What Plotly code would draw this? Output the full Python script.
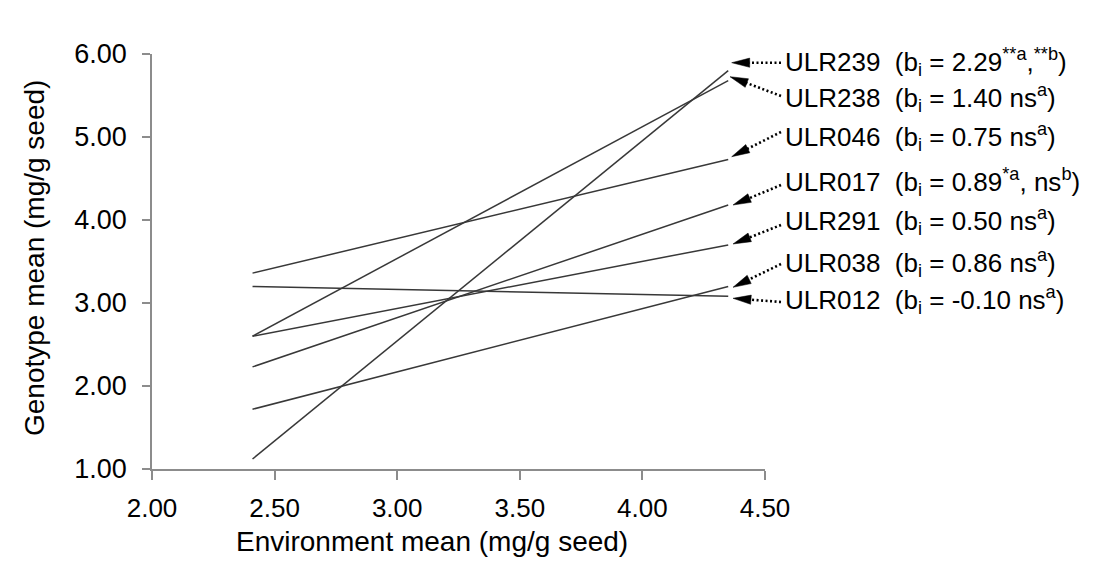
import math
import plotly.graph_objects as go

# ---- data ----
genotypes = ["ULR239", "ULR238", "ULR046", "ULR017", "ULR291", "ULR038", "ULR012"]
env_low = 2.41
env_high = 4.35
geno_low = [1.12, 2.60, 3.36, 2.23, 2.60, 1.72, 3.20]
geno_high = [5.80, 5.68, 4.73, 4.18, 3.70, 3.20, 3.08]
labels = [
    "ULR239 \u00a0(b<sub>i</sub> = 2.29<sup>**a</sup>,<sup>**b</sup>)",
    "ULR238 \u00a0(b<sub>i</sub> = 1.40 ns<sup>a</sup>)",
    "ULR046 \u00a0(b<sub>i</sub> = 0.75 ns<sup>a</sup>)",
    "ULR017 \u00a0(b<sub>i</sub> = 0.89<sup>*a</sup>, ns<sup>b</sup>)",
    "ULR291 \u00a0(b<sub>i</sub> = 0.50 ns<sup>a</sup>)",
    "ULR038 \u00a0(b<sub>i</sub> = 0.86 ns<sup>a</sup>)",
    "ULR012 \u00a0(b<sub>i</sub> = -0.10 ns<sup>a</sup>)",
]
x_ticks = [2.0, 2.5, 3.0, 3.5, 4.0, 4.5]
y_ticks = [1.0, 2.0, 3.0, 4.0, 5.0, 6.0]

# ---- layout geometry ----
W, H = 1094, 563
OFF = 8  # page body margin
SX0, SX1, SY0, SY1 = 152, 765, 54, 469  # plot area on screen
PW, PH = SX1 - SX0, SY1 - SY0
L, T = SX0 - OFF, SY0 - OFF
R, B = W - L - PW, H - T - PH

def px(p):
    return (p - SX0) / PW

def py(p):
    return (SY1 - p) / PH

# annotation placement (screen pixels): label centre y, arrow tip, dotted tail
label_x = 783
label_y = [62, 98, 137, 182, 221, 263, 300]
tips = [(731.7, 62.7), (730, 76.7), (731.7, 156.7), (733, 205), (733, 244), (733, 287.3), (733, 298.3)]
tails = [(781, 62.7), (781, 96), (781, 132), (781, 185), (781, 225), (781, 264), (781, 302)]

FONT = "Arial, Liberation Sans"
fig = go.Figure()
for g, y0, y1 in zip(genotypes, geno_low, geno_high):
    fig.add_trace(go.Scatter(x=[env_low, env_high], y=[y0, y1], mode="lines", name=g,
                             line=dict(color="#383838", width=1.5), showlegend=False,
                             hoverinfo="name+x+y"))

shapes = []
annotations = []
HEAD_L, HEAD_W = 18, 4.6
for lab, ly, (tx, ty), (sx, sy) in zip(labels, label_y, tips, tails):
    dx, dy = tx - sx, ty - sy
    n = math.hypot(dx, dy)
    ux, uy = dx / n, dy / n
    bx, by = tx - HEAD_L * ux, ty - HEAD_L * uy
    nx, ny = -uy, ux
    p1 = (bx + HEAD_W * nx, by + HEAD_W * ny)
    p2 = (bx - HEAD_W * nx, by - HEAD_W * ny)
    shapes.append(dict(type="line", xref="paper", yref="paper",
                       x0=px(sx), y0=py(sy), x1=px(bx + 2 * ux), y1=py(by + 2 * uy),
                       line=dict(color="black", width=2.6, dash="2px,2.5px")))
    path = "M{:.5f},{:.5f} L{:.5f},{:.5f} L{:.5f},{:.5f} Z".format(
        px(tx), py(ty), px(p1[0]), py(p1[1]), px(p2[0]), py(p2[1]))
    shapes.append(dict(type="path", xref="paper", yref="paper", path=path,
                       fillcolor="black", line=dict(color="black", width=0.5)))
    annotations.append(dict(text=lab, xref="paper", yref="paper", x=px(label_x), y=py(ly),
                            xanchor="left", yanchor="middle", showarrow=False,
                            font=dict(family=FONT, size=26, color="black")))

annotations.append(dict(text="Genotype mean (mg/g seed)", xref="paper", yref="paper",
                        x=px(35), y=py(258), textangle=-90, showarrow=False,
                        xanchor="center", yanchor="middle",
                        font=dict(family=FONT, size=28, color="black")))
annotations.append(dict(text="Environment mean (mg/g seed)", xref="paper", yref="paper",
                        x=px(432), y=py(541), showarrow=False,
                        xanchor="center", yanchor="middle",
                        font=dict(family=FONT, size=28, color="black")))

axis_common = dict(showgrid=False, zeroline=False, showline=True, linecolor="#8c8c8c",
                   linewidth=1.5, ticks="outside", tickcolor="#8c8c8c", tickwidth=1.5,
                   tickformat=".2f", mirror=False)
fig.update_layout(
    width=W, height=H,
    margin=dict(l=L, r=R, t=T, b=B),
    paper_bgcolor="white", plot_bgcolor="white",
    font=dict(family=FONT, color="black"),
    xaxis=dict(range=[2.0, 4.5], tickvals=x_ticks, ticklen=9, ticklabelstandoff=6,
               tickfont=dict(size=26, family=FONT), **axis_common),
    yaxis=dict(range=[1.0, 6.0], tickvals=y_ticks, ticklen=8, ticklabelstandoff=10,
               tickfont=dict(size=27, family=FONT), **axis_common),
    shapes=shapes, annotations=annotations,
)
fig.write_html("out.html")
